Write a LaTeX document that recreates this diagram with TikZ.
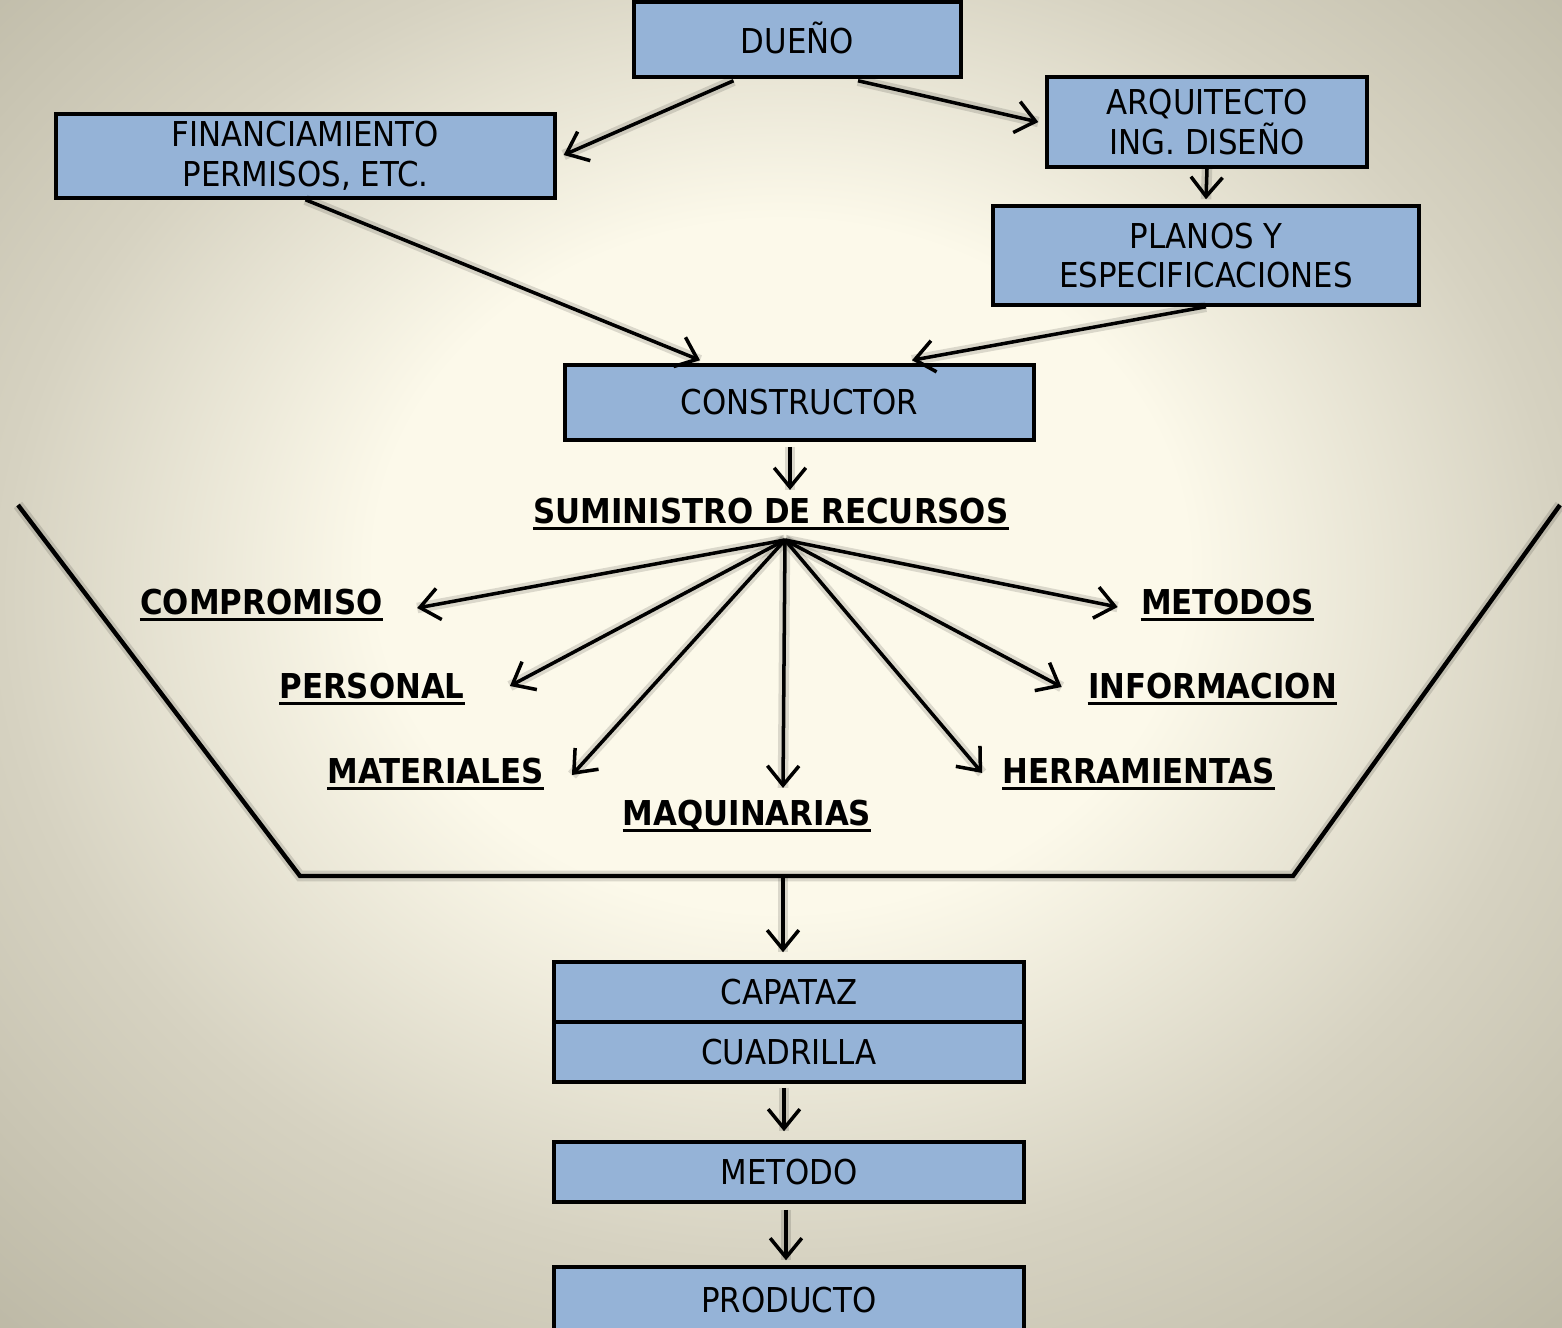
\documentclass[tikz,border=0pt]{standalone}
\usepackage{fontspec}
\newfontfamily\dfont[FakeStretch=0.9]{DejaVu Sans}
\usetikzlibrary{arrows.meta,calc}
\definecolor{boxblue}{HTML}{95B3D7}
\definecolor{bgin}{HTML}{FCF9EA}
\definecolor{bgmid}{HTML}{D6D2C1}
\definecolor{bgout}{HTML}{BCB8A5}
\pgfdeclareradialshading{vignette}{\pgfpoint{0bp}{5bp}}{%
  color(0bp)=(bgin); color(13bp)=(bgin); color(25bp)=(bgmid);
  color(37bp)=(bgout); color(50bp)=(bgout)}
\begin{document}
\begin{tikzpicture}[x=0.02cm,y=-0.02cm,
  box/.style={draw=black, fill=boxblue, line width=2pt, inner sep=0pt,
    align=center, font=\dfont\fontsize{19.5}{22.5}\selectfont},
  lab/.style={inner sep=0pt, text depth=0pt,
    font=\dfont\bfseries\fontsize{19.5}{22.5}\selectfont},
  glow/.style={preaction={draw, -, line width=6pt, black, opacity=0.13}},
  conn/.style={glow, line width=2pt,
    -{Straight Barb[length=11pt,width=18pt]}},
  funnel/.style={glow, line width=2.5pt, line join=miter}]

% background with a soft vignette
\useasboundingbox (0,0) rectangle (1562,1328);
\shade[shading=vignette] (0,0) rectangle (1562,1328);
\clip (0,0) rectangle (1562,1328);

% top part: owner, designers and builder
\node[box, minimum width=6.54cm, minimum height=1.5cm] (due) at (797.5,39.5) {\raisebox{2pt}{DUEÑO}};
\node[box, minimum width=9.98cm, minimum height=1.68cm] (fin) at (305.5,156)
  {FINANCIAMIENTO\\PERMISOS, ETC.};
\node[box, minimum width=6.4cm, minimum height=1.8cm] (arq) at (1207,122)
  {ARQUITECTO\\ING. DISEÑO};
\node[box, minimum width=8.52cm, minimum height=1.98cm] (pla) at (1206,255.5)
  {PLANOS Y\\ESPECIFICACIONES};
\node[box, minimum width=9.38cm, minimum height=1.5cm] (con) at (799.5,402.5) {CONSTRUCTOR};

% resources
\node[lab] (sum)  at (771,511)    {SUMINISTRO DE RECURSOS};
\node[lab] (comp) at (261.5,602)  {COMPROMISO};
\node[lab] (pers) at (372,686)    {PERSONAL};
\node[lab] (mat)  at (435.5,771)  {MATERIALES};
\node[lab] (maq)  at (747,813)    {MAQUINARIAS};
\node[lab] (herr) at (1138.5,771) {HERRAMIENTAS};
\node[lab] (inf)  at (1212.5,686) {INFORMACION};
\node[lab] (metd) at (1227.5,602) {METODOS};
\foreach \n in {sum,comp,pers,mat,maq,herr,inf,metd}
  \draw[line width=1.5pt] ([yshift=-2.6pt]\n.south west) -- ([yshift=-2.6pt]\n.south east);

% funnel
\coordinate (f1) at (18,505);
\coordinate (f2) at (300,876);
\coordinate (f3) at (1293,876);
\coordinate (f4) at (1560,505);
\coordinate (fb) at (783,878);
\draw[funnel] (f1) -- (f2) -- (f3) -- (f4);

% bottom part: crew, method and product
\node[box, minimum width=9.4cm, minimum height=1.2cm] (cap) at (789,992)  {CAPATAZ};
\node[box, minimum width=9.4cm, minimum height=1.2cm] (cua) at (789,1052) {CUADRILLA};
\node[box, minimum width=9.4cm, minimum height=1.2cm] (met) at (789,1172) {METODO};
\node[box, minimum width=9.4cm, minimum height=1.32cm] (pro) at (789,1300) {PRODUCTO};

% connectors
\draw[conn] ($(due.south)+(-64,2)$) -- ($(fin.east)+(7,-1)$);
\draw[conn] ($(due.south)+(60.5,2)$) -- ($(arq.west)+(-7,0)$);
\draw[conn] (arq.south) -- ($(pla.north)+(0,-5)$);
\draw[conn] (fin.south) -- ($(con.north)+(-99.5,-3)$);
\draw[conn] (pla.south) -- ($(con.north)+(112.5,-3)$);
\draw[conn] ($(con.south)+(-9.5,5)$) -- ($(sum.north)+(19,-8)$);

\coordinate (hub) at (785,540);
\draw[conn] (hub) -- ($(comp.east)+(34,6)$);
\draw[conn] (hub) -- ($(pers.east)+(45,0)$);
\draw[conn] (hub) -- ($(mat.east)+(28,4)$);
\draw[conn] (hub) -- ($(maq.north)+(36,-12)$);
\draw[conn] (hub) -- ($(herr.west)+(-20,2)$);
\draw[conn] (hub) -- ($(inf.west)+(-26,1)$);
\draw[conn] (hub) -- ($(metd.west)+(-23,5)$);

\draw[conn] (fb) -- ($(cap.north)+(-6,-8)$);
\draw[conn] ($(cua.south)+(-5,4)$) -- ($(met.north)+(-5,-9)$);
\draw[conn] ($(met.south)+(-3,6)$) -- ($(pro.north)+(-3,-5)$);
\end{tikzpicture}
\end{document}
